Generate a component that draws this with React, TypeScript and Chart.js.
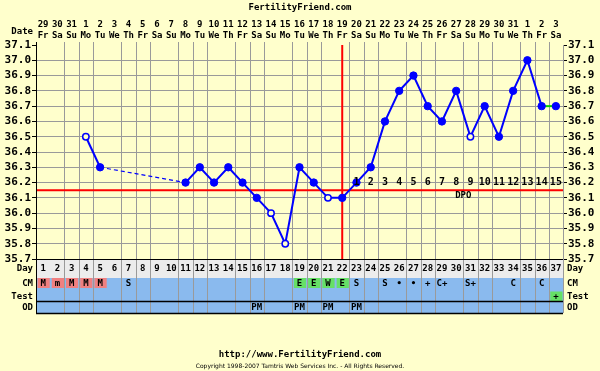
import React, { useEffect, useRef } from "react";
import { Chart, registerables } from "chart.js";

Chart.register(...registerables);

// ---------- data ----------
const cycleDays = ["1","2","3","4","5","6","7","8","9","10","11","12","13","14","15","16","17","18","19","20","21","22","23","24","25","26","27","28","29","30","31","32","33","34","35","36","37"];
const dateNumbers = ["29","30","31","1","2","3","4","5","6","7","8","9","10","11","12","13","14","15","16","17","18","19","20","21","22","23","24","25","26","27","28","29","30","31","1","2","3"];
const weekdays = ["Fr","Sa","Su","Mo","Tu","We","Th","Fr","Sa","Su","Mo","Tu","We","Th","Fr","Sa","Su","Mo","Tu","We","Th","Fr","Sa","Su","Mo","Tu","We","Th","Fr","Sa","Su","Mo","Tu","We","Th","Fr","Sa"];
const temperatures: (number | null)[] = [null,null,null,36.5,36.3,null,null,null,null,null,36.2,36.3,36.2,36.3,36.2,36.1,36.0,35.8,36.3,36.2,36.1,36.1,36.2,36.3,36.6,36.8,36.9,36.7,36.6,36.8,36.5,36.7,36.5,36.8,37.0,36.7,36.7];
const openDays = [4, 17, 18, 21, 31];
const tempTicks = [35.7,35.8,35.9,36.0,36.1,36.2,36.3,36.4,36.5,36.6,36.7,36.8,36.9,37.0,37.1];
const coverline = 36.15;
const ovulationDay = 22;
const dpoLabels = ["1","2","3","4","5","6","7","8","9","10","11","12","13","14","15"];
const dpoStartDay = 23;
const cmEntries = ["M","m","M","M","M","","S","","","","","","","","","","","","E","E","W","E","S","","S","•","•","+","C+","","S+","","","C","","C",""];
const cmKind = ["menses","menses","menses","menses","menses","","","","","","","","","","","","","","fertile","fertile","fertile","fertile","","","","","","","","","","","","","","",""];
const testEntries = ["","","","","","","","","","","","","","","","","","","","","","","","","","","","","","","","","","","","","+"];
const odEntries = ["","","","","","","","","","","","","","","","PM","","","PM","","PM","","PM","","","","","","","","","","","","","",""];

// ---------- styles ----------
const BG = "#ffffcc";
const GRID = "#9a9a9a";
const BLUE_ROW = "#8abaee";
const GRAY_ROW = "#ececec";
const PINK = "#f08080";
const GREEN = "#66e066";
const FONT = '"DejaVu Sans Mono", "Liberation Mono", monospace';

function text(ctx: CanvasRenderingContext2D, s: string, x: number, y: number, size: number, align: CanvasTextAlign = "center", bold = true) {
  ctx.font = `${bold ? "bold " : ""}${size}px ${FONT}`;
  ctx.fillStyle = "#000";
  ctx.textAlign = align;
  ctx.textBaseline = "middle";
  ctx.fillText(s, x, y);
}

function hline(ctx: CanvasRenderingContext2D, x1: number, x2: number, y: number, color: string, w = 1) {
  ctx.strokeStyle = color;
  ctx.lineWidth = w;
  ctx.beginPath();
  ctx.moveTo(x1, y);
  ctx.lineTo(x2, y);
  ctx.stroke();
}
function vline(ctx: CanvasRenderingContext2D, x: number, y1: number, y2: number, color: string, w = 1) {
  ctx.strokeStyle = color;
  ctx.lineWidth = w;
  ctx.beginPath();
  ctx.moveTo(x, y1);
  ctx.lineTo(x, y2);
  ctx.stroke();
}

const fertilityPlugin = {
  id: "fertility",
  beforeDraw(chart: any) {
    const { ctx, width, height } = chart;
    ctx.save();
    ctx.fillStyle = BG;
    ctx.fillRect(0, 0, width, height);
    ctx.restore();
  },
  beforeDatasetsDraw(chart: any) {
    const { ctx, chartArea: a, scales } = chart;
    const n = cycleDays.length;
    const w = (a.right - a.left) / n;
    ctx.save();
    for (let k = 1; k < n; k++) {
      if (k % 4 === 1) continue;
      const px = Math.round(a.left + k * w) + 0.5;
      vline(ctx, px, a.top - 3, a.bottom, GRID);
    }
    const cy = scales.y.getPixelForValue(coverline);
    hline(ctx, a.left, a.right, cy, "#ff0000", 2);
    const ox = scales.x.getPixelForValue(ovulationDay - 1);
    vline(ctx, ox, a.top, a.bottom, "#ff0000", 2);
    ctx.restore();
  },
  afterDatasetsDraw(chart: any) {
    const { ctx, scales } = chart;
    ctx.save();
    const yy = scales.y.getPixelForValue(36.2);
    dpoLabels.forEach((s, i) => {
      text(ctx, s, scales.x.getPixelForValue(dpoStartDay - 1 + i), yy, 10);
    });
    const mid = (dpoStartDay - 1 + dpoStartDay - 1 + dpoLabels.length - 1) / 2;
    const dx = (scales.x.getPixelForValue(Math.floor(mid)) + scales.x.getPixelForValue(Math.floor(mid) + 1)) / 2;
    text(ctx, "DPO", dx, scales.y.getPixelForValue(36.1) - 2, 9);
    ctx.restore();
  },
  afterDraw(chart: any) {
    const { ctx, chartArea: a, scales } = chart;
    const n = cycleDays.length;
    const w = (a.right - a.left) / n;
    const xs = scales.x;
    const b = a.bottom;
    const dayTop = b + 1, dayBot = b + 19;
    const cmTop = dayBot, cmBot = b + 32;
    const testTop = cmBot, testBot = b + 42;
    const odTop = b + 43, odBot = b + 54;
    ctx.save();
    ctx.fillStyle = GRAY_ROW;
    ctx.fillRect(a.left, dayTop, a.right - a.left, dayBot - dayTop);
    ctx.fillStyle = BLUE_ROW;
    ctx.fillRect(a.left, cmTop, a.right - a.left, testBot - cmTop);
    ctx.fillRect(a.left, odTop, a.right - a.left, odBot - odTop);
    for (let i = 0; i < n; i++) {
      const l = a.left + i * w;
      if (cmKind[i]) {
        ctx.fillStyle = cmKind[i] === "menses" ? PINK : GREEN;
        ctx.fillRect(l + 1.5, cmTop, w - 2, 10);
      }
      if (testEntries[i]) {
        ctx.fillStyle = GREEN;
        ctx.fillRect(l + 1.5, testTop + 0.5, w - 2, testBot - testTop - 0.5);
      }
    }
    for (let k = 1; k <= n; k++) {
      if (k % 4 === 1 && k < n) continue;
      const px = Math.round(a.left + k * w) + 0.5;
      vline(ctx, px, b, odBot, GRID);
    }
    hline(ctx, a.left, a.right, b + 0.5, "#000", 1);
    hline(ctx, a.left, a.right, testBot + 0.5, "#000", 1.5);
    hline(ctx, a.left, a.right, odBot + 0.5, "#000", 1.5);
    vline(ctx, a.left + 0.5, a.top - 3, odBot + 1, "#000", 1);
    for (let i = 0; i < n; i++) {
      const cx = xs.getPixelForValue(i);
      text(ctx, cycleDays[i], cx, b + 10, 9);
      if (cmEntries[i]) text(ctx, cmEntries[i], cx, b + 25, 9);
      if (testEntries[i]) text(ctx, testEntries[i], cx, b + 37.5, 9);
      if (odEntries[i]) text(ctx, odEntries[i], cx, b + 49, 9);
      text(ctx, dateNumbers[i], cx, 25, 9);
      text(ctx, weekdays[i], cx, 36, 9);
    }
    const labels: [string, number][] = [["Day", b + 10], ["CM", b + 25], ["Test", b + 37.5], ["OD", b + 49]];
    labels.forEach(([s, yv]) => {
      text(ctx, s, a.left - 3, yv, 9, "right");
      text(ctx, s, a.right + 4, yv, 9, "left");
    });
    text(ctx, "Date", a.left - 3, 32, 9, "right");
    text(ctx, "FertilityFriend.com", 300, 8, 9);
    text(ctx, "http://www.FertilityFriend.com", 300, 355, 9);
    ctx.font = `6px "DejaVu Sans", sans-serif`;
    ctx.fillStyle = "#000";
    ctx.textAlign = "center";
    ctx.textBaseline = "middle";
    ctx.fillText("Copyright 1998-2007 Tamtris Web Services Inc. - All Rights Reserved.", 300, 366);
    ctx.restore();
  },
};

function yAxis(position: "left" | "right", width: number, onChart: boolean) {
  return {
    type: "linear",
    position,
    min: 35.7,
    max: 37.1,
    afterBuildTicks: (s: any) => {
      s.ticks = tempTicks.map((v) => ({ value: v }));
    },
    afterFit: (s: any) => {
      s.width = width;
    },
    grid: {
      drawOnChartArea: onChart,
      color: (c: any) => (c.tick && Math.abs(c.tick.value - 37.1) < 1e-6 ? "rgba(0,0,0,0)" : GRID),
      tickLength: 4,
      tickColor: "#000",
      lineWidth: 1,
    },
    border: { display: true, color: onChart ? "#000" : GRID, width: 1 },
    ticks: {
      color: "#000",
      padding: 1,
      autoSkip: false,
      font: { family: FONT, size: 11, weight: "bold" },
      callback: (v: any) => Number(v).toFixed(1),
    },
  };
}

export default function App() {
  const ref = useRef<HTMLCanvasElement>(null);
  useEffect(() => {
    const last = temperatures.length - 1;
    const isGap = (c: any) => temperatures[c.p0DataIndex] == null;
    const chart = new Chart(ref.current as HTMLCanvasElement, {
      type: "line",
      data: {
        labels: cycleDays,
        datasets: [
          {
            data: temperatures,
            borderColor: "#0000ff",
            borderWidth: 2,
            spanGaps: true,
            tension: 0,
            pointRadius: (c: any) => (openDays.includes(c.dataIndex + 1) ? 3.2 : 3.7),
            pointBackgroundColor: (c: any) => (openDays.includes(c.dataIndex + 1) ? BG : "#0000ff"),
            pointBorderColor: "#0000ff",
            pointBorderWidth: (c: any) => (openDays.includes(c.dataIndex + 1) ? 1.5 : 1),
            segment: {
              borderDash: (c: any) => (isGap(c) ? [4, 3] : undefined),
              borderWidth: (c: any) => (isGap(c) ? 1.2 : undefined),
              borderColor: (c: any) => (c.p1DataIndex === last ? "#00cc00" : undefined),
            },
          } as any,
        ],
      },
      options: {
        responsive: false,
        animation: false,
        events: [],
        devicePixelRatio: 1,
        layout: { padding: { top: 45, bottom: 112, left: 0, right: 0 } },
        plugins: { legend: { display: false }, tooltip: { enabled: false }, title: { display: false } },
        scales: {
          x: { type: "category", offset: true, display: false },
          y: yAxis("left", 36, true),
          y2: yAxis("right", 37, false),
        } as any,
      },
      plugins: [fertilityPlugin],
    });
    return () => chart.destroy();
  }, []);
  return (
    <div style={{ position: "fixed", left: 0, top: 0, width: 600, height: 371, background: BG }}>
      <canvas ref={ref} width={600} height={371} style={{ display: "block", width: 600, height: 371 }} />
    </div>
  );
}
